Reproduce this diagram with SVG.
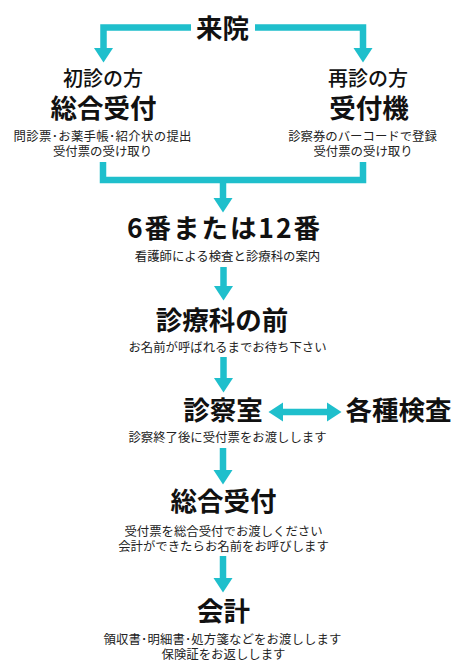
<svg xmlns="http://www.w3.org/2000/svg" width="470" height="669" viewBox="0 0 470 669">
<style>
text{font-family:"Noto Sans CJK JP","Noto Sans CJK SC",sans-serif;text-anchor:middle;fill:#111}
.h{font-size:26.5px;font-weight:700}
.m{font-size:20px;font-weight:500}
.s{font-size:12.4px;font-weight:400;fill:#222}
.c{fill:none;stroke:#1fbfcc;stroke-width:6.5}
</style>
<defs>
<marker id="ah" markerUnits="userSpaceOnUse" markerWidth="15" markerHeight="20" viewBox="0 0 15 20" refX="0" refY="10" orient="auto-start-reverse">
<path d="M0,0.5 L14.5,10 L0,19.5 Z" fill="#1fbfcc"/>
</marker>
</defs>
<g id="connectors">
<path class="c" d="M191,27.5 H103.5 V48" marker-end="url(#ah)"/>
<path class="c" d="M255,27.5 H363 V48" marker-end="url(#ah)"/>
<path class="c" d="M103,162 V180 H363 V162"/>
<path class="c" d="M223,180 V198" marker-end="url(#ah)"/>
<path class="c" d="M223.5,267 V286" marker-end="url(#ah)"/>
<path class="c" d="M223.5,357 V378" marker-end="url(#ah)"/>
<path class="c" d="M283,412 H327" marker-start="url(#ah)" marker-end="url(#ah)"/>
<path class="c" d="M223,448 V470" marker-end="url(#ah)"/>
<path class="c" d="M223,556 V578" marker-end="url(#ah)"/>
</g>
<g id="raiin"><text class="h" x="222.5" y="38" font-size="26">来院</text></g>
<g id="shoshin">
<text class="m" x="103" y="85.5">初診の方</text>
<text class="h" x="103.5" y="118">総合受付</text>
<text class="s" x="102.5" y="141" textLength="178" lengthAdjust="spacing">問診票･お薬手帳･紹介状の提出</text>
<text class="s" x="102.5" y="156">受付票の受け取り</text>
</g>
<g id="saishin">
<text class="m" x="368" y="85.5">再診の方</text>
<text class="h" x="369" y="118">受付機</text>
<text class="s" x="362.5" y="141">診察券のバーコードで登録</text>
<text class="s" x="363" y="156">受付票の受け取り</text>
</g>
<g id="bangou">
<text class="h" x="223.5" y="238" font-weight="500" textLength="193" lengthAdjust="spacing">6番または12番</text>
<text class="s" x="227.5" y="261">看護師による検査と診療科の案内</text>
</g>
<g id="shinryoka">
<text class="h" x="222" y="330">診療科の前</text>
<text class="s" x="227.5" y="352">お名前が呼ばれるまでお待ち下さい</text>
</g>
<g id="shinsatsushitsu">
<text class="h" x="223" y="420">診察室</text>
<text class="s" x="227.5" y="442">診察終了後に受付票をお渡しします</text>
</g>
<g id="kakushu"><text class="h" x="398.5" y="420">各種検査</text></g>
<g id="sogo">
<text class="h" x="223.5" y="511">総合受付</text>
<text class="s" x="223.5" y="536">受付票を総合受付でお渡しください</text>
<text class="s" x="223.5" y="551">会計ができたらお名前をお呼びします</text>
</g>
<g id="kaikei">
<text class="h" x="223.5" y="621">会計</text>
<text class="s" x="222.5" y="644" textLength="238" lengthAdjust="spacing">領収書･明細書･処方箋などをお渡しします</text>
<text class="s" x="223.5" y="659">保険証をお返しします</text>
</g>
</svg>
